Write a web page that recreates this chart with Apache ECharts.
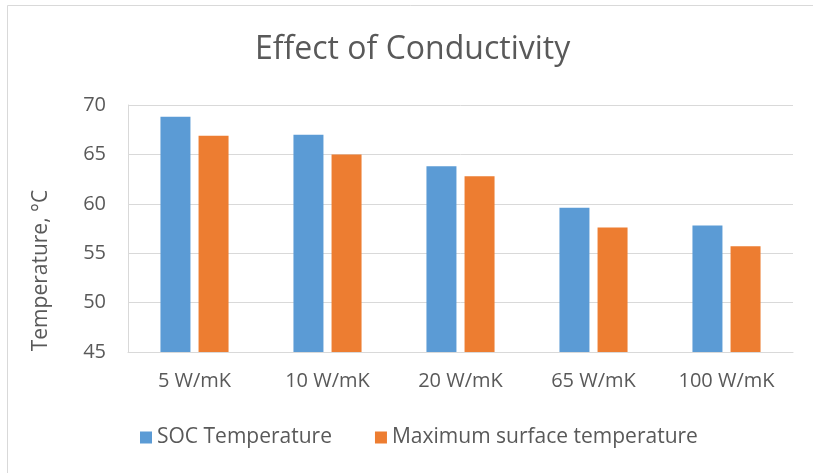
<!DOCTYPE html>
<html>
<head>
<meta charset="utf-8">
<script src="https://cdn.jsdelivr.net/npm/echarts@6/dist/echarts.min.js"></script>
<style>
  html, body { margin: 0; padding: 0; background: #ffffff; }
  #chart { width: 813px; height: 473px; }
</style>
</head>
<body>
<div id="chart"></div>
<script>
// Conductivity cases along the x axis
const categories = ['5 W/mK', '10 W/mK', '20 W/mK', '65 W/mK', '100 W/mK'];

// Temperatures in °C for each case
const socTemperature = [68.8, 67.0, 63.8, 59.6, 57.8];
const maxSurfaceTemperature = [66.9, 65.0, 62.8, 57.6, 55.7];

const seriesNames = ['SOC Temperature', 'Maximum surface temperature'];

const FONT = '"Open Sans", "Noto Sans", sans-serif';
const TEXT = '#595959';
const GRID_LINE = '#d9d9d9';

const chart = echarts.init(document.getElementById('chart'), null, { renderer: 'canvas' });

chart.setOption({
  animation: false,
  backgroundColor: '#ffffff',
  color: ['#5b9bd5', '#ed7d31'],
  title: {
    text: 'Effect of Conductivity',
    left: 255,
    top: 34,
    padding: 0,
    textStyle: { fontFamily: FONT, fontSize: 32, fontWeight: 'normal', color: TEXT }
  },
  legend: {
    left: 140,
    top: 427,
    padding: 0,
    itemWidth: 12,
    itemHeight: 12,
    itemGap: 43,
    icon: 'rect',
    textStyle: { fontFamily: FONT, fontSize: 21, color: TEXT },
    data: seriesNames
  },
  graphic: [{
    type: 'rect',
    silent: true,
    shape: { x: 7.5, y: 5.5, width: 900, height: 600 },
    style: { fill: 'none', stroke: GRID_LINE, lineWidth: 1 }
  }],
  grid: { left: 128, right: 20, top: 105, bottom: 121 },
  xAxis: {
    type: 'category',
    data: categories,
    axisTick: { show: false },
    axisLine: { show: true, lineStyle: { color: GRID_LINE, width: 1 } },
    axisLabel: { fontFamily: FONT, fontSize: 20, color: TEXT, margin: 19 }
  },
  yAxis: {
    type: 'value',
    min: 45,
    max: 70,
    interval: 5,
    name: 'Temperature, °C',
    nameLocation: 'middle',
    nameGap: 76,
    nameTextStyle: { fontFamily: FONT, fontSize: 21, color: TEXT, padding: [0, 84, 0, 0] },
    axisLine: { show: true, lineStyle: { color: GRID_LINE, width: 1 } },
    axisTick: { show: false },
    axisLabel: { fontFamily: FONT, fontSize: 20, color: TEXT, margin: 22 },
    splitLine: { show: true, lineStyle: { color: GRID_LINE, width: 1 } }
  },
  series: [
    {
      name: seriesNames[0],
      type: 'bar',
      data: socTemperature,
      barWidth: 30,
      barGap: '27%'
    },
    {
      name: seriesNames[1],
      type: 'bar',
      data: maxSurfaceTemperature,
      barWidth: 30,
      barGap: '27%'
    }
  ]
});
</script>
</body>
</html>
